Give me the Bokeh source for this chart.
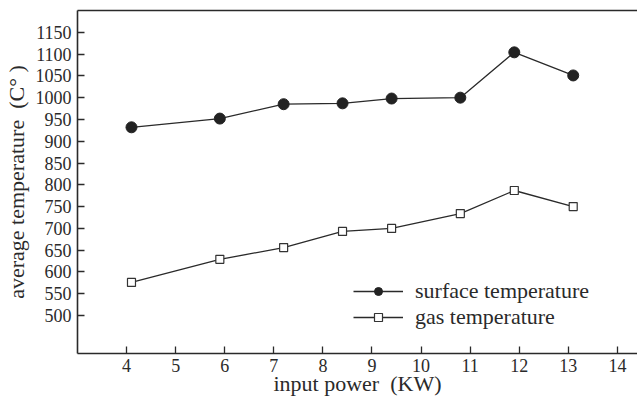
from bokeh.plotting import figure
from bokeh.models import LinearAxis, FixedTicker, Legend, LegendItem, Range1d
from bokeh.embed import file_html
from bokeh.resources import INLINE

power_surface = [4.1, 5.9, 7.2, 8.4, 9.4, 10.8, 11.9, 13.1]
surface_temp = [932, 952, 985, 987, 998, 1000, 1104, 1051]
power_gas = [4.1, 5.9, 7.2, 8.4, 9.4, 10.8, 11.9, 13.1]
gas_temp = [576, 629, 656, 693, 700, 734, 787, 750]
x_ticks = [4, 5, 6, 7, 8, 9, 10, 11, 12, 13, 14]
y_ticks = list(range(500, 1151, 50))

FONT = "Liberation Serif"
INK = "#2a2a2a"

p = figure(width=637, height=398, output_backend="svg", toolbar_location=None,
           x_range=Range1d(3.0, 14.41), y_range=Range1d(413, 1200),
           min_border_left=75, min_border_top=10, min_border_bottom=45, min_border_right=0)
p.outline_line_color = None
p.grid.visible = False
p.background_fill_color = "white"
p.border_fill_color = "white"

for ax in (p.xaxis[0], p.yaxis[0]):
    ax.axis_line_color = INK
    ax.axis_line_width = 1.6
    ax.major_tick_line_color = INK
    ax.major_tick_line_width = 1.3
    ax.major_tick_in = 7
    ax.major_tick_out = 0
    ax.minor_tick_line_color = None
    ax.major_label_text_font = FONT
    ax.major_label_text_font_size = "18px"
    ax.major_label_text_color = INK
    ax.axis_label_text_font = FONT
    ax.axis_label_text_font_style = "normal"
    ax.axis_label_text_font_size = "22px"
    ax.axis_label_text_color = INK

p.xaxis[0].ticker = FixedTicker(ticks=x_ticks)
p.yaxis[0].ticker = FixedTicker(ticks=y_ticks)
p.xaxis[0].axis_label = "input power\u00a0\u00a0(KW)"
p.yaxis[0].axis_label = "average temperature\u00a0\u00a0(C°\u00a0)"
p.xaxis[0].major_label_standoff = 5
p.xaxis[0].axis_label_standoff = -4
p.yaxis[0].major_label_standoff = 6
p.yaxis[0].axis_label_standoff = 4

top = LinearAxis(ticker=FixedTicker(ticks=[]), axis_line_color=INK, axis_line_width=1.6,
                 major_tick_line_color=None, minor_tick_line_color=None)
p.add_layout(top, "above")

l1 = p.line(power_surface, surface_temp, line_color=INK, line_width=1.3)
m1 = p.scatter(power_surface, surface_temp, marker="circle", size=11,
               fill_color="#222222", line_color="#222222")
l2 = p.line(power_gas, gas_temp, line_color=INK, line_width=1.3)
m2 = p.scatter(power_gas, gas_temp, marker="square", size=8,
               fill_color="white", line_color="#333333", line_width=1.2)

legend = Legend(items=[LegendItem(label="surface temperature", renderers=[l1, m1]),
                       LegendItem(label="gas temperature", renderers=[l2, m2])],
                location=(276, 23), border_line_color=None, background_fill_alpha=0,
                padding=0, margin=0, spacing=0, glyph_width=50, glyph_height=20,
                label_height=20, label_standoff=12,
                label_text_font=FONT, label_text_font_size="22px", label_text_color=INK)
p.add_layout(legend, "center")

open("out.html", "w").write(file_html(p, INLINE))
